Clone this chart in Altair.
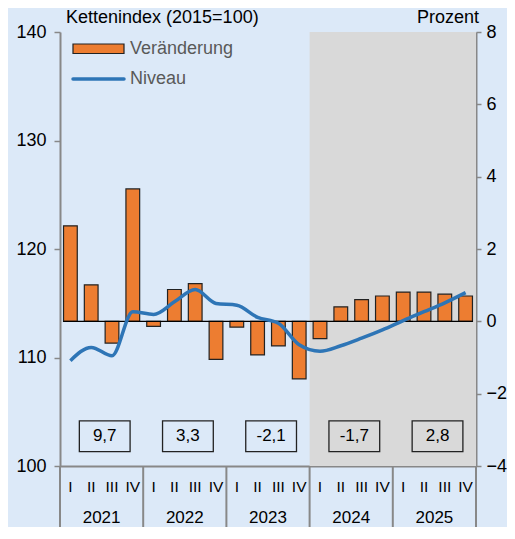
import altair as alt
import pandas as pd

# ---- data ----
years = ["2021", "2022", "2023", "2024", "2025"]
quarters = ["I", "II", "III", "IV"]
veraenderung = [2.64, 1.01, -0.60, 3.66,
                -0.14, 0.88, 1.04, -1.05,
                -0.16, -0.93, -0.68, -1.59,
                -0.48, 0.40, 0.60, 0.70,
                0.81, 0.81, 0.75, 0.70]
niveau = [109.71, 110.93, 110.16, 114.22,
          113.97, 115.13, 116.26, 114.98,
          114.82, 113.70, 113.15, 111.17,
          110.57, 111.08, 111.78, 112.54,
          113.40, 114.22, 115.04, 115.98]
jahreswerte = ["9,7", "3,3", "-2,1", "-1,7", "2,8"]
prognose_jahre = ["2024", "2025"]
left_ticks = [100, 110, 120, 130, 140]
right_ticks = [-4, -2, 0, 2, 4, 6, 8]

W, H = 416, 434
ORANGE = "#ED7D31"
BLUE = "#2E75B6"
GRID = "#888888"
BG = "#DCE9F8"
FONT = "Liberation Sans"
NARROW = "Liberation Sans Narrow, Arial Narrow, Liberation Sans"

n = len(veraenderung)
q = pd.DataFrame({
    "mid": [k + 0.5 for k in range(n)],
    "x1": [k + 0.17 for k in range(n)],
    "x2": [k + 0.83 for k in range(n)],
    "quartal": [quarters[k % 4] for k in range(n)],
    "veraenderung": veraenderung,
    "niveau": niveau,
})
yrs = pd.DataFrame({
    "jahr": years,
    "xc": [4 * k + 2 for k in range(len(years))],
    "bx1": [4 * k + 2.15 - 1.22 for k in range(len(years))],
    "bx2": [4 * k + 2.15 + 1.22 for k in range(len(years))],
    "bxc": [4 * k + 2.15 for k in range(len(years))],
    "wert": jahreswerte,
    "by1": [-2.75] * len(years),
    "by2": [-3.6] * len(years),
    "bym": [-3.175] * len(years),
})
first_prog = years.index(prognose_jahre[0])
band = pd.DataFrame({"x1": [4 * first_prog], "x2": [4 * len(years)]})
seps = pd.DataFrame({"x": [4 * k for k in range(len(years) + 1)]})
zero = pd.DataFrame({"x1": [0.15], "x2": [n - 0.15], "y": [0]})
one = pd.DataFrame({"a": [0]})

xs = alt.Scale(domain=[0, n], nice=False, zero=False)
xaxis = alt.Axis(labels=False, ticks=False, grid=False, domain=True,
                 domainColor=GRID, domainWidth=2, title=None)
yl = alt.Scale(domain=[100, 140], nice=False, zero=False)
yr = alt.Scale(domain=[-4, 8], nice=False, zero=False)
laxis = alt.Axis(orient="left", values=left_ticks, tickSize=6, tickWidth=1.5,
                 tickColor=GRID, domainColor=GRID, domainWidth=2, grid=False,
                 labelFontSize=18, labelFont=FONT, labelColor="black",
                 labelPadding=8, title=None, format="d")
raxis = alt.Axis(orient="right", values=right_ticks, tickSize=5, tickWidth=1.5,
                 tickColor=GRID, domainColor=GRID, domainWidth=2, grid=False,
                 labelFontSize=18, labelFont=FONT, labelColor="black",
                 labelPadding=5, title=None, format="d")

X = lambda f: alt.X(f, type="quantitative", scale=xs, axis=xaxis)

band_l = alt.Chart(band).mark_rect(color="#D9D9D9").encode(
    x=X("x1"), x2="x2", y=alt.value(0), y2=alt.value(H))
bars = alt.Chart(q).mark_rect(color=ORANGE, stroke="#222222", strokeWidth=1.2).encode(
    x=X("x1"), x2="x2",
    y=alt.Y("veraenderung:Q", scale=yr, axis=raxis), y2=alt.datum(0))
zero_l = alt.Chart(zero).mark_rule(color="black", strokeWidth=1.3).encode(
    x=X("x1"), x2="x2", y=alt.Y("y:Q", scale=yr, axis=raxis))
boxes = alt.Chart(yrs).mark_rect(fillOpacity=0, stroke="#222222", strokeWidth=1.3).encode(
    x=X("bx1"), x2="bx2", y=alt.Y("by1:Q", scale=yr, axis=raxis), y2="by2")
box_txt = alt.Chart(yrs).mark_text(font=FONT, fontSize=17, color="black",
                                   baseline="middle").encode(
    x=X("bxc"), y=alt.Y("bym:Q", scale=yr, axis=raxis), text="wert:N")
q_txt = alt.Chart(q).mark_text(font=NARROW, fontSize=15.5, color="black",
                               baseline="middle").encode(
    x=X("mid"), y=alt.value(H + 21), text="quartal:N")
y_txt = alt.Chart(yrs).mark_text(font=NARROW, fontSize=17, color="black",
                                 baseline="middle").encode(
    x=X("xc"), y=alt.value(H + 52), text="jahr:N")
sep_l = alt.Chart(seps).mark_rule(color=GRID, strokeWidth=2).encode(
    x=X("x"), y=alt.value(H), y2=alt.value(H + 70))

group_r = alt.layer(band_l, bars, zero_l, boxes, box_txt, q_txt, y_txt, sep_l)

line = alt.Chart(q).mark_line(color=BLUE, strokeWidth=3.5, interpolate="monotone").encode(
    x=X("mid"), y=alt.Y("niveau:Q", scale=yl, axis=laxis))
group_l = alt.layer(line)

# titles and legend
t_left = alt.Chart(one).mark_text(font=FONT, fontSize=18, color="black", align="left",
                                  baseline="middle").encode(
    x=alt.value(6), y=alt.value(-14), text=alt.value("Kettenindex (2015=100)"))
t_right = alt.Chart(one).mark_text(font=FONT, fontSize=18, color="black", align="right",
                                   baseline="middle").encode(
    x=alt.value(W + 3), y=alt.value(-14), text=alt.value("Prozent"))
leg_rect = alt.Chart(one).mark_rect(color=ORANGE, stroke="#222222", strokeWidth=1.2).encode(
    x=alt.value(13), x2=alt.value(64), y=alt.value(12), y2=alt.value(21.5))
leg_t1 = alt.Chart(one).mark_text(font=FONT, fontSize=18, color="#595959", align="left",
                                  baseline="middle").encode(
    x=alt.value(70), y=alt.value(16.5), text=alt.value("Veränderung"))
leg_line = alt.Chart(one).mark_rule(color=BLUE, strokeWidth=3.5, strokeCap="round").encode(
    x=alt.value(13), x2=alt.value(64), y=alt.value(47))
leg_t2 = alt.Chart(one).mark_text(font=FONT, fontSize=18, color="#595959", align="left",
                                  baseline="middle").encode(
    x=alt.value(70), y=alt.value(47), text=alt.value("Niveau"))

chart = alt.layer(group_r, group_l, t_left, t_right, leg_rect, leg_t1, leg_line, leg_t2
                  ).resolve_scale(y="independent").properties(
    width=W, height=H,
    autosize=alt.AutoSizeParams(type="none"),
    padding={"left": 52, "top": 24, "right": 31, "bottom": 61},
    background=BG,
).configure_view(strokeWidth=0)

chart.save("out.html", embed_options={"renderer": "svg", "actions": False})
